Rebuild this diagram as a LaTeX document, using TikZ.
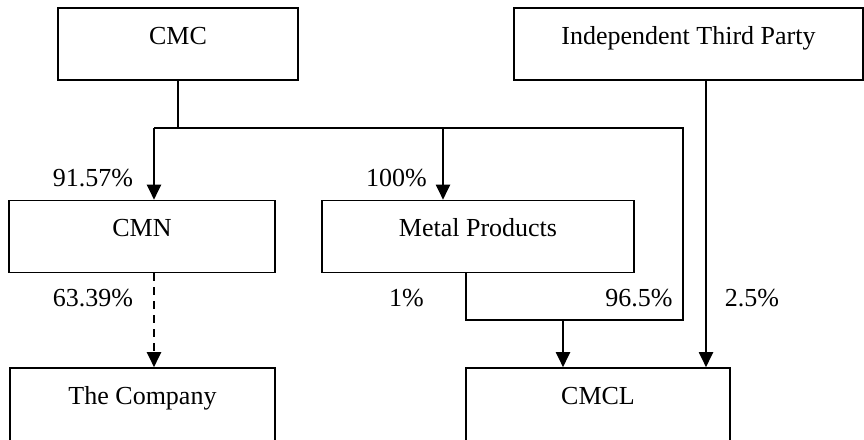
\documentclass[tikz,border=0pt]{standalone}
\usepackage{fontspec}
\setmainfont{Liberation Serif}
\usetikzlibrary{arrows.meta}
\tikzset{
  box/.style={draw, line width=1.6pt, minimum height=72pt, inner sep=0pt,
    text height=9pt, text depth=9pt, font=\fontsize{26}{30}\selectfont},
  lowbox/.style={box, minimum height=84pt, text depth=21pt},
  lbl/.style={inner sep=0pt, font=\fontsize{26}{30}\selectfont},
  conn/.style={line width=1.5pt},
  arr/.style={line width=2pt, -{Triangle[length=15pt,width=14pt]}},
  dsh/.style={dash pattern=on 8pt off 6pt}
}
\begin{document}
\begin{tikzpicture}[x=1pt,y=-1pt]
\useasboundingbox (0,0) rectangle (864,439);
\clip (0,0) rectangle (864,439);
\fill[white] (0,0) rectangle (864,439);
% boxes
\node[box, minimum width=240pt] (CMC) at (178,44) {CMC};
\node[box, minimum width=349pt] (ITP) at (688.5,44) {Independent Third Party};
\node[box, minimum width=266pt] (CMN) at (142,236.5) {CMN};
\node[box, minimum width=312pt] (MP) at (478,236.5) {Metal Products};
\node[lowbox, minimum width=265pt] (CO) at (142.5,410) {The Company};
\node[lowbox, minimum width=264pt] (CMCL) at (598,410) {CMCL};
% junction coordinates
\coordinate (busL) at (154,128);
\coordinate (busM) at (443,128);
\coordinate (busR) at (683,128);
\coordinate (mpL) at (466,320);
\coordinate (mpM) at (563,320);
\coordinate (mpR) at (683,320);
\coordinate (itpx) at (706,0);
% connectors
\draw[conn] (CMC.south) -- (CMC.south |- busL);
\draw[conn] (busL) -- (busR) -- (mpR) -- (mpL) -- (mpL |- MP.south);
\draw[arr] (busL) -- (busL |- CMN.north);
\draw[arr] (busM) -- (busM |- MP.north);
\draw[arr] (mpM) -- (mpM |- CMCL.north);
\draw[arr] (itpx |- ITP.south) -- (itpx |- CMCL.north);
\draw[arr, dsh] (busL |- CMN.south) -- (busL |- CO.north);
% labels
\node[lbl] (l1) at (93,178) {91.57\%};
\node[lbl] (l2) at (396.5,178) {100\%};
\node[lbl] (l3) at (93,298) {63.39\%};
\node[lbl] (l4) at (406.5,298) {1\%};
\node[lbl] (l5) at (639,298) {96.5\%};
\node[lbl] (l6) at (752,298) {2.5\%};
\end{tikzpicture}
\end{document}
